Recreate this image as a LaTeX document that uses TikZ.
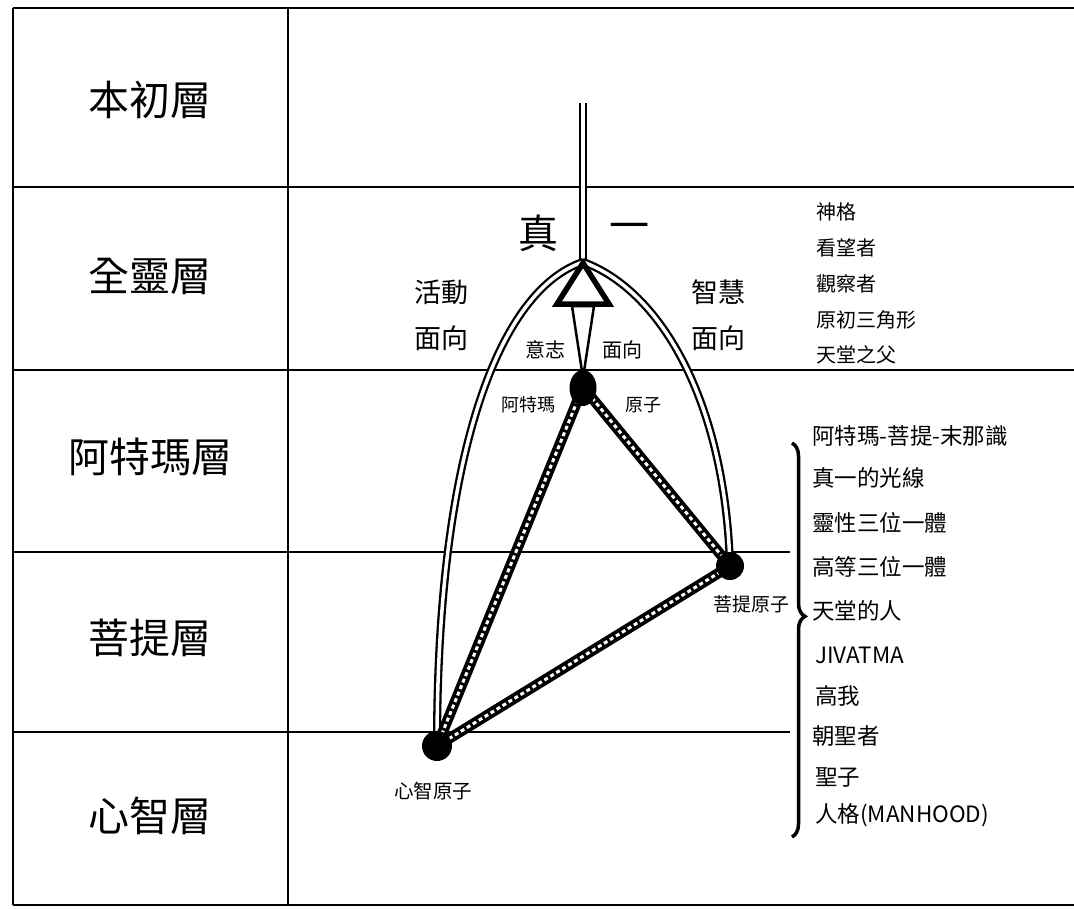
\documentclass[tikz,border=0pt]{standalone}
\usepackage{fontspec}
\setmainfont{Noto Sans CJK TC}
\usetikzlibrary{decorations.pathreplacing}
\usetikzlibrary{shapes.geometric}

\tikzset{
  layer/.style={font=\fontsize{41}{44}\selectfont},
  side/.style={font=\fontsize{27}{30}\selectfont,inner sep=0pt},
  tag/.style={font=\fontsize{18}{20}\selectfont,inner sep=0pt},
  item/.style={font=\fontsize{20}{22}\selectfont,anchor=west,inner sep=0pt},
  bigitem/.style={font=\fontsize{22.5}{25}\selectfont,anchor=west,inner sep=0pt},
  rule/.style={line width=2.5pt},
  arch/.style={draw=black,double=white,line width=2.3pt,double distance=3.5pt},
  rope/.style={white,line width=3pt,dash pattern=on 4pt off 3pt,
    preaction={draw=black,solid,line width=10.5pt}},
  atom/.style={circle,fill=black,minimum size=28pt,inner sep=0pt},
}

\begin{document}
\begin{tikzpicture}[x=1pt,y=-1pt]
  \useasboundingbox (0,0) rectangle (1074,908);
  \coordinate (top) at (583,103);
  \coordinate (apex) at (583,262);
  \coordinate (atmanc) at (583,387);
  \coordinate (buddhic) at (730,566);
  \coordinate (manasc) at (437,746);
  \draw[rule]
    (13,8) -- (1074,8)
    (13,187) -- (1074,187)
    (13,370) -- (1074,370)
    (13,552) -- (790,552)
    (13,732) -- (790,732)
    (13,905) -- (1074,905);
  \draw[rule]
    (13,8) -- (13,905)
    (288,8) -- (288,905);
  \draw[arch,double distance=3.5pt,line width=2pt]
    (top)
    --
    (apex);
  \draw[arch]
    (apex)
    .. controls (500,290) and (437,450) ..
    (manasc);
  \draw[arch]
    (apex)
    .. controls (660,290) and (725,400) ..
    (buddhic);
  \draw[rope]
    (atmanc)
    --
    (manasc);
  \draw[rope]
    (atmanc)
    --
    (buddhic);
  \draw[rope]
    (manasc)
    --
    (buddhic);
  \filldraw[fill=white,line width=2.5pt,line join=miter]
    (572,306) -- (594,306) -- (583,378) -- cycle;
  \filldraw[fill=white,line width=5.5pt,line join=miter]
    (583,263) -- (609,304) -- (557,304) -- cycle;
  \node[atom,ellipse,minimum width=27pt,minimum height=36pt] (atman) at (583,388) {};
  \node[atom] (buddhi) at (buddhic) {};
  \node[atom,minimum size=30pt] (manas) at (manasc) {};
  \draw[decorate,decoration={brace,amplitude=13pt,aspect=0.44},line width=3.5pt]
    (792,443)
    --
    (792,837);
  \node[layer] (l1) at (150,100) {本初層};
  \node[layer] (l2) at (150,276) {全靈層};
  \node[layer] (l3) at (150,457) {阿特瑪層};
  \node[layer] (l4) at (150,638) {菩提層};
  \node[layer] (l5) at (150,816) {心智層};
  \node[font=\fontsize{40}{44}\selectfont,inner sep=0pt] (zhen) at (538,233) {真};
  \node[font=\fontsize{40}{44}\selectfont,inner sep=0pt] (yi) at (629,232) {一};
  \node[side] (act1) at (441,292) {活動};
  \node[side] (act2) at (441,338) {面向};
  \node[side] (wis1) at (718,292) {智慧};
  \node[side] (wis2) at (718,338) {面向};
  \node[tag,font=\fontsize{20}{22}\selectfont] (will1) at (545,350) {意志};
  \node[tag,font=\fontsize{20}{22}\selectfont] (will2) at (622,350) {面向};
  \node[tag] (atmanl) at (528,405) {阿特瑪};
  \node[tag] (atoml) at (643,405) {原子};
  \node[tag,font=\fontsize{19}{21}\selectfont] (buddhil) at (751,604) {菩提原子};
  \node[tag,font=\fontsize{19.5}{21}\selectfont] (manasl) at (433,791) {心智原子};
  \node[item] (m1) at (816,212) {神格};
  \node[item] (m2) at (816,248) {看望者};
  \node[item] (m3) at (816,284) {觀察者};
  \node[item] (m4) at (816,320) {原初三角形};
  \node[item] (m5) at (816,355) {天堂之父};
  \node[bigitem] (s1) at (812,436) {阿特瑪-菩提-末那識};
  \node[bigitem] (s2) at (812,478) {真一的光線};
  \node[bigitem] (s3) at (812,523) {靈性三位一體};
  \node[bigitem] (s4) at (812,567) {高等三位一體};
  \node[bigitem] (s5) at (812,611) {天堂的人};
  \node[bigitem] (s6) at (815,655) {JIVATMA};
  \node[bigitem] (s7) at (815,696) {高我};
  \node[bigitem] (s8) at (812,736) {朝聖者};
  \node[bigitem] (s9) at (815,777) {聖子};
  \node[bigitem] (s10) at (815,815) {人格(MANHOOD)};
\end{tikzpicture}
\end{document}
